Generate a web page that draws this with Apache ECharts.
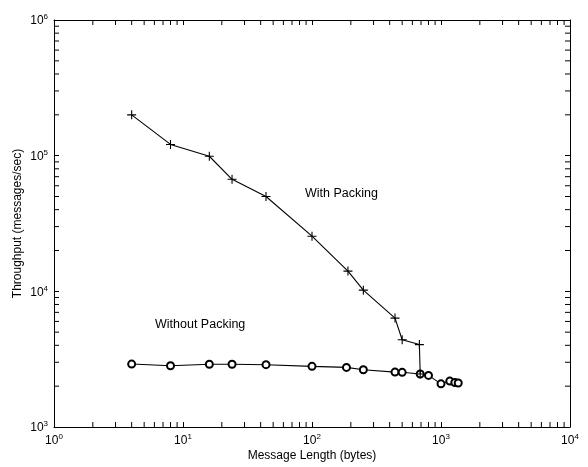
<!DOCTYPE html>
<html><head><meta charset="utf-8">
<script src="https://cdn.jsdelivr.net/npm/echarts@6/dist/echarts.min.js"></script>
<style>html,body{margin:0;padding:0;background:#fff}#c{width:588px;height:467px}</style>
</head><body><div id="c"></div>
<script>
// Data
var withX = [4, 8, 16, 24, 44, 100, 190, 250, 440, 500, 680, 690];
var withY = [200000, 121000, 99000, 67000, 50000, 25500, 14100, 10200, 6350, 4400, 4050, 2460];
var withoutX = [4, 8, 16, 24, 44, 100, 185, 250, 440, 500, 690, 800, 1000, 1170, 1280, 1360];
var withoutY = [2910, 2830, 2900, 2900, 2880, 2800, 2750, 2640, 2540, 2530, 2460, 2400, 2080, 2180, 2130, 2110];
var xTickExp = [0, 1, 2, 3, 4];
var yTickExp = [3, 4, 5, 6];
var xMinor = [];
[1, 10, 100, 1000].forEach(function (d) { for (var k = 2; k <= 9; k++) xMinor.push(k * d); });
var yMinor = [];
[1000, 10000, 100000].forEach(function (d) { for (var k = 2; k <= 9; k++) yMinor.push(k * d); });

var FONT = 'Liberation Sans';
function zip(a, b) { return a.map(function (v, i) { return [v, b[i]]; }); }
function expLabel(v) {
  var e = Math.round(Math.log(v) / Math.LN10);
  return '{b|10}{s|' + e + '}';
}
var rich = {
  b: { fontFamily: FONT, fontSize: 12, color: '#000', verticalAlign: 'bottom', lineHeight: 14 },
  s: { fontFamily: FONT, fontSize: 8, color: '#000', verticalAlign: 'top', lineHeight: 14, padding: [0, 0, 6, 0] }
};
var TL = 5;
var chart = echarts.init(document.getElementById('c'), null, { renderer: 'canvas' });
var axisCommon = {
  type: 'log', logBase: 10,
  axisLine: { show: true, lineStyle: { color: '#000', width: 1 } },
  axisTick: { show: true, inside: true, length: TL, lineStyle: { color: '#000' } },
  splitLine: { show: false },
  minorTick: { show: false }
};
chart.setOption({
  animation: false,
  backgroundColor: '#fff',
  grid: { left: 54, right: 18, top: 20, bottom: 40, show: false },
  xAxis: [
    Object.assign({}, axisCommon, {
      position: 'bottom', min: 1, max: 10000,
      name: 'Message Length (bytes)', nameLocation: 'middle', nameGap: 23, nameMoveOverlap: false,
      nameTextStyle: { fontFamily: FONT, fontSize: 12, color: '#000' },
      axisLabel: { formatter: expLabel, rich: rich, margin: 6 }
    }),
    Object.assign({}, axisCommon, {
      position: 'top', min: 1, max: 10000, axisLabel: { show: false }
    })
  ],
  yAxis: [
    Object.assign({}, axisCommon, {
      position: 'left', min: 1000, max: 1000000,
      name: 'Throughput (messages/sec)', nameLocation: 'middle', nameGap: 30, nameMoveOverlap: false,
      nameTextStyle: { fontFamily: FONT, fontSize: 12, color: '#000' },
      axisLabel: { formatter: expLabel, rich: rich, margin: 6 }
    }),
    Object.assign({}, axisCommon, {
      position: 'right', min: 1000, max: 1000000, axisLabel: { show: false }
    })
  ],
  series: [
    {
      type: 'line', name: 'With Packing', data: zip(withX, withY),
      lineStyle: { color: '#000', width: 1.1 },
      symbol: 'path://M0,-1L0,1M-1,0L1,0', symbolSize: 9,
      itemStyle: { color: 'none', borderColor: '#000', borderWidth: 1.1 },
      z: 3
    },
    {
      type: 'line', name: 'Without Packing', data: zip(withoutX, withoutY),
      lineStyle: { color: '#000', width: 1.1 },
      symbol: 'emptyCircle', symbolSize: 7,
      itemStyle: { color: '#000', borderColor: '#000', borderWidth: 0.8 },
      z: 2
    },
    {
      type: 'custom', name: 'xminor', data: xMinor.map(function (v) { return [v, 1000]; }),
      clip: false, silent: true,
      renderItem: function (params, api) {
        var v = api.value(0);
        var b = api.coord([v, 1000]);
        var t = api.coord([v, 1000000]);
        return { type: 'group', children: [
          { type: 'line', shape: { x1: b[0], y1: b[1], x2: b[0], y2: b[1] - TL }, style: { stroke: '#000', lineWidth: 1 } },
          { type: 'line', shape: { x1: t[0], y1: t[1], x2: t[0], y2: t[1] + TL }, style: { stroke: '#000', lineWidth: 1 } }
        ] };
      }
    },
    {
      type: 'custom', name: 'yminor', data: yMinor.map(function (v) { return [1, v]; }),
      clip: false, silent: true,
      renderItem: function (params, api) {
        var v = api.value(1);
        var l = api.coord([1, v]);
        var r = api.coord([10000, v]);
        return { type: 'group', children: [
          { type: 'line', shape: { x1: l[0], y1: l[1], x2: l[0] + TL, y2: l[1] }, style: { stroke: '#000', lineWidth: 1 } },
          { type: 'line', shape: { x1: r[0], y1: r[1], x2: r[0] - TL, y2: r[1] }, style: { stroke: '#000', lineWidth: 1 } }
        ] };
      }
    }
  ],
  graphic: [
    { type: 'text', left: 305, top: 187, style: { text: 'With Packing', font: '12.5px "Liberation Sans"', fill: '#000' } },
    { type: 'text', left: 155, top: 318, style: { text: 'Without Packing', font: '12.5px "Liberation Sans"', fill: '#000' } }
  ]
});
</script></body></html>
